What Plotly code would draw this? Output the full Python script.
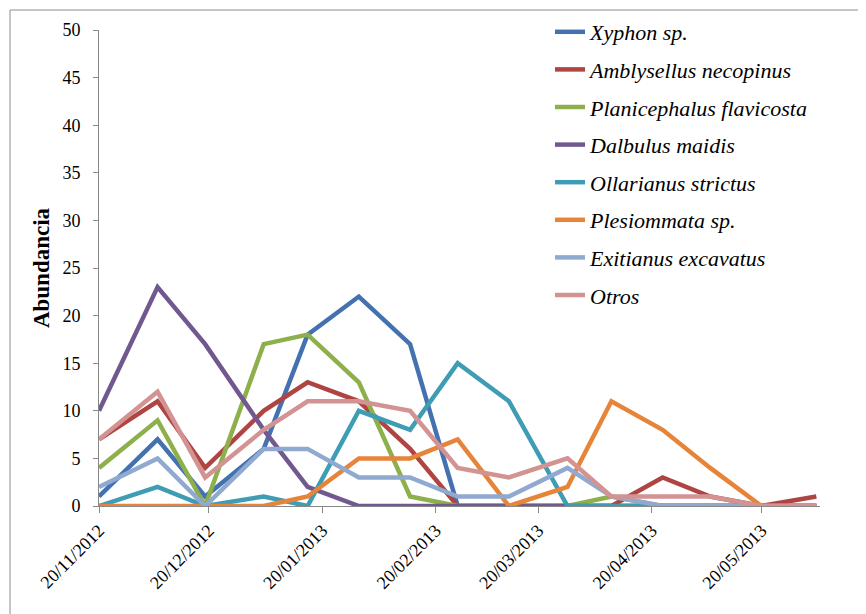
import plotly.graph_objects as go

dates = ["2012-11-20", "2012-12-06", "2012-12-19", "2013-01-04", "2013-01-16",
         "2013-01-30", "2013-02-13", "2013-02-26", "2013-03-12", "2013-03-28",
         "2013-04-09", "2013-04-23", "2013-05-06", "2013-05-20", "2013-06-04"]

xyphon        = [1, 7, 1, 6, 18, 22, 17, 0, 0, 0, 0, 0, 0, 0, 0]
amblysellus   = [7, 11, 4, 10, 13, 11, 6, 0, 0, 0, 0, 3, 1, 0, 1]
planicephalus = [4, 9, 0, 17, 18, 13, 1, 0, 0, 0, 1, 0, 0, 0, 0]
dalbulus      = [10, 23, 17, 8, 2, 0, 0, 0, 0, 0, 0, 0, 0, 0, 0]
ollarianus    = [0, 2, 0, 1, 0, 10, 8, 15, 11, 0, 0, 0, 0, 0, 0]
plesiommata   = [0, 0, 0, 0, 1, 5, 5, 7, 0, 2, 11, 8, 4, 0, 0]
exitianus     = [2, 5, 0, 6, 6, 3, 3, 1, 1, 4, 1, 0, 0, 0, 0]
otros         = [7, 12, 3, 8, 11, 11, 10, 4, 3, 5, 1, 1, 1, 0, 0]

series_names = ["Xyphon sp.", "Amblysellus necopinus", "Planicephalus flavicosta",
                "Dalbulus maidis", "Ollarianus strictus", "Plesiommata sp.",
                "Exitianus excavatus", "Otros"]
series_values = [xyphon, amblysellus, planicephalus, dalbulus, ollarianus,
                 plesiommata, exitianus, otros]
colors = ["#4472B0", "#AE4543", "#8DB04C", "#71588F", "#3F9CB5", "#E6843A",
          "#8FA9D0", "#D39392"]

tick_vals = ["2012-11-20", "2012-12-20", "2013-01-20", "2013-02-20",
             "2013-03-20", "2013-04-20", "2013-05-20"]
tick_text = ["20/11/2012", "20/12/2012", "20/01/2013", "20/02/2013",
             "20/03/2013", "20/04/2013", "20/05/2013"]

fig = go.Figure()
for i, (name, vals, col) in enumerate(zip(series_names, series_values, colors)):
    fig.add_trace(go.Scatter(
        x=dates, y=vals, mode="lines", name=f"<i>{name}</i>",
        legendgroup=f"g{i}",
        line=dict(color=col, width=4.5),
    ))

serif = "Liberation Serif"
axis_col = "#888888"

# page body adds an 8px offset; work in screen pixels and compensate
OFF = 8
W, H = 866, 614
plot_left, plot_right, plot_top, plot_bottom = 99, 820, 30, 506
L = plot_left - OFF
T = plot_top - OFF
R = W - (plot_right - OFF)
B = H - (plot_bottom - OFF)
pw, ph = plot_right - plot_left, plot_bottom - plot_top

def px2x(px):
    return (px - plot_left) / pw

def py2y(py):
    return (plot_bottom - py) / ph

fig.update_layout(
    width=W, height=H,
    margin=dict(l=L, r=R, t=T, b=B, autoexpand=False),
    paper_bgcolor="white", plot_bgcolor="white",
    font=dict(family=serif, color="black"),
    showlegend=True,
    legend=dict(x=px2x(550), y=py2y(11), xanchor="left", yanchor="top",
                font=dict(family=serif, size=22, color="black"),
                tracegroupgap=6, bgcolor="rgba(0,0,0,0)", itemwidth=30,
                maxheight=600),
    xaxis=dict(
        type="date", range=["2012-11-20", "2013-06-05"],
        tickvals=tick_vals, ticktext=tick_text, tickangle=-45,
        ticks="outside", ticklen=6, tickcolor=axis_col,
        showline=True, linecolor=axis_col, linewidth=1,
        showgrid=False, zeroline=False, automargin=False,
        tickfont=dict(family=serif, size=18, color="black"),
    ),
    yaxis=dict(
        range=[0, 50], dtick=5, tick0=0,
        ticks="outside", ticklen=5, tickcolor=axis_col,
        showline=True, linecolor=axis_col, linewidth=1,
        showgrid=False, zeroline=False, automargin=False,
        ticklabelstandoff=9,
        tickfont=dict(family=serif, size=18, color="black"),
        title=dict(text="<b>Abundancia</b>", standoff=6,
                   font=dict(family=serif, size=23, color="black")),
    ),
    shapes=[
        dict(type="line", xref="paper", yref="paper",
             x0=px2x(10), x1=px2x(880), y0=py2y(10), y1=py2y(10),
             line=dict(color="#8C8C8C", width=1)),
        dict(type="line", xref="paper", yref="paper",
             x0=px2x(10), x1=px2x(10), y0=py2y(10), y1=py2y(630),
             line=dict(color="#8C8C8C", width=1)),
    ],
)

fig.write_html("out.html")
